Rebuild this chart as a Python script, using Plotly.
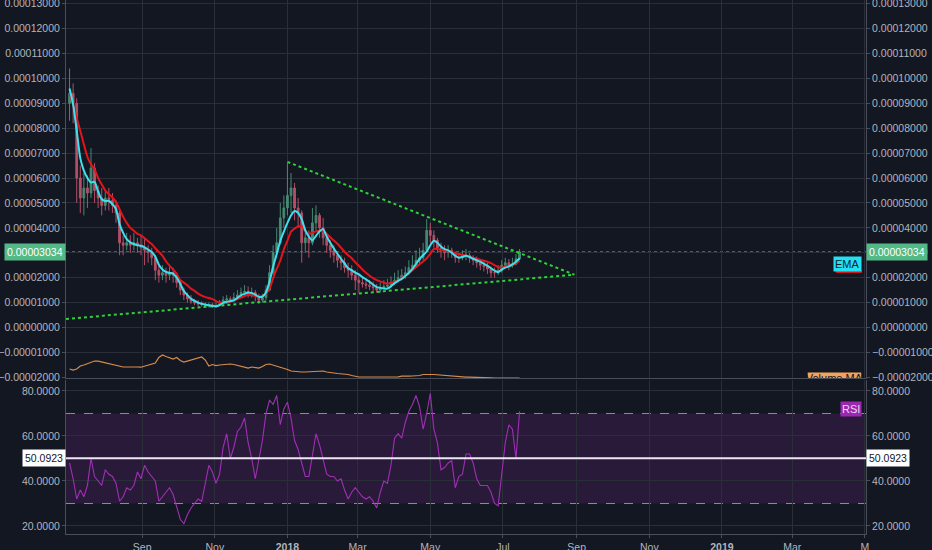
import plotly.graph_objects as go
import pandas as pd

# ---------------- data (prices in satoshi = 1e-8) ----------------
START_DATE = "2017-07-02"
STEP = "3D"
first_open_sats = 9000
close_sats = [9400, 9000, 6000, 5200, 5600, 5400, 6400, 5500, 5200, 4900,
              5200, 5100, 4900, 4600, 3400, 3300, 3400, 3300, 3400, 3300,
              3200, 3100, 3000, 2800, 2300, 2100, 2200, 2100, 2200, 2100,
              1800, 1500, 1300, 1150, 1050, 980, 950, 920, 880, 900,
              850, 880, 950, 1100, 1150, 1100, 1200, 1300, 1400, 1450,
              1350, 1400, 1250, 1100, 1200, 1500, 2200, 3000, 3400, 4400,
              4800, 5300, 5600, 4800, 4600, 3400, 3600, 3400, 4200, 4500,
              4000, 3600, 3300, 3100, 2900, 2700, 2600, 2400, 2300, 2100,
              1900, 1800, 1750, 1700, 1650, 1600, 1500, 1550, 1650, 1700,
              1800, 1900, 2000, 2100, 2200, 2400, 2500, 2700, 2800, 3100,
              3900, 3700, 3500, 3200, 3100, 3000, 3100, 3000, 2800, 2800,
              2900, 2900, 2800, 2700, 2600, 2500, 2450, 2350, 2200, 2200,
              2300, 2500, 2600, 2500, 2550, 2750, 3034]
high_sats = [10400, 9800, 9200, 6500, 6200, 6100, 7200, 6600, 5700, 5600,
             5500, 5600, 5400, 5100, 4700, 3700, 3800, 3700, 3800, 3600,
             3700, 3600, 3300, 3200, 2900, 2500, 2500, 2400, 2500, 2400,
             2200, 1900, 1600, 1400, 1300, 1150, 1100, 1050, 1000, 1000,
             980, 1000, 1100, 1250, 1300, 1250, 1400, 1500, 1600, 1700,
             1650, 1600, 1500, 1350, 1350, 1700, 2500, 3300, 4000, 5000,
             5300, 6600, 6200, 5800, 5200, 4700, 4000, 3900, 4800, 4900,
             4600, 4400, 3800, 3500, 3300, 3000, 2900, 2800, 2600, 2500,
             2300, 2100, 2000, 1950, 1900, 1850, 1750, 1800, 1900, 1950,
             2050, 2200, 2300, 2350, 2450, 2700, 2900, 3100, 3200, 3400,
             4350, 4200, 3900, 3600, 3400, 3300, 3300, 3200, 3050, 3000,
             3100, 3150, 3000, 2900, 2850, 2750, 2650, 2600, 2450, 2400,
             2500, 2700, 2800, 2750, 2800, 2950, 3150]
low_sats = [8300, 8200, 5000, 4600, 4500, 4800, 5200, 5000, 4800, 4500,
            4700, 4700, 4600, 4200, 2900, 2900, 3100, 3000, 3100, 3000,
            2900, 2500, 2600, 2500, 1900, 1800, 1900, 1800, 1900, 1800,
            1600, 1300, 1100, 1000, 950, 900, 850, 830, 800, 800,
            780, 800, 850, 900, 1000, 1000, 1050, 1100, 1200, 1250,
            1200, 1200, 1050, 950, 1000, 1100, 1450, 2100, 2800, 3300,
            4000, 4500, 4600, 4300, 4000, 2600, 3000, 2800, 3300, 3900,
            3600, 3300, 3000, 2800, 2600, 2400, 2300, 2200, 2000, 1900,
            1500, 1400, 1600, 1550, 1500, 1450, 1400, 1400, 1500, 1550,
            1650, 1700, 1800, 1900, 1950, 2100, 2300, 2400, 2500, 2700,
            3100, 3400, 3200, 3000, 2800, 2700, 2800, 2800, 2600, 2600,
            2700, 2700, 2600, 2500, 2400, 2300, 2250, 2150, 2000, 2000,
            2100, 2200, 2400, 2300, 2400, 2500, 2700]
ema_fast_sats = [9600, 8960, 7900, 6800, 6300, 6000, 5820, 5850, 5450, 5150,
                 5080, 5080, 4950, 4750, 4150, 3800, 3550, 3420, 3350, 3300,
                 3280, 3220, 3130, 3030, 2850, 2520, 2330, 2230, 2190, 2160,
                 2000, 1750, 1460, 1300, 1150, 1070, 1000, 950, 920, 890,
                 870, 845, 900, 990, 1030, 1060, 1090, 1190, 1290, 1350,
                 1400, 1380, 1320, 1230, 1240, 1400, 1850, 2450, 2950, 3480,
                 3850, 4200, 4500, 4680, 4600, 4350, 3900, 3650, 3500, 3680,
                 3860, 3950, 3650, 3400, 3170, 2960, 2760, 2570, 2380, 2300,
                 2200, 2130, 2020, 1930, 1830, 1720, 1620, 1590, 1570, 1560,
                 1650, 1780, 1870, 1950, 2070, 2200, 2350, 2550, 2750, 2900,
                 3050, 3300, 3480, 3400, 3250, 3150, 3100, 3000, 2880, 2800,
                 2830, 2880, 2830, 2760, 2700, 2640, 2560, 2480, 2380, 2280,
                 2220, 2320, 2400, 2450, 2530, 2640, 2780]
ema_slow_sats = [9400, 8960, 8400, 7900, 7350, 6850, 6550, 6350, 6000, 5750,
                 5500, 5350, 5220, 5050, 4750, 4450, 4200, 4000, 3880, 3760,
                 3700, 3580, 3460, 3350, 3180, 3030, 2880, 2660, 2480, 2330,
                 2150, 1900, 1800, 1690, 1560, 1470, 1360, 1280, 1220, 1180,
                 1140, 1060, 1000, 990, 980, 1040, 1080, 1140, 1200, 1260,
                 1300, 1290, 1260, 1220, 1270, 1360, 1560, 1980, 2350, 2680,
                 3150, 3480, 3850, 3970, 4060, 4080, 3880, 3760, 3800, 3860,
                 3880, 3880, 3750, 3620, 3490, 3360, 3200, 3040, 2900, 2780,
                 2620, 2480, 2330, 2200, 2080, 1980, 1900, 1850, 1800, 1760,
                 1800, 1840, 1880, 1980, 2080, 2180, 2300, 2420, 2540, 2650,
                 2780, 2960, 3150, 3150, 3110, 3080, 3050, 3020, 2980, 2950,
                 2920, 2880, 2840, 2800, 2760, 2720, 2680, 2640, 2580, 2500,
                 2420, 2400, 2440, 2480, 2500, 2580, 2680]
rsi_vals = [48, 41, 32, 36, 33, 38, 50, 42, 40, 38,
            45, 43, 42, 39, 31, 33, 37, 36, 38, 44,
            41, 47, 44, 42, 40, 31, 33, 35, 37, 34,
            28, 23, 21, 25, 28, 30, 32, 31, 39, 47,
            44, 39, 43, 55, 61, 50, 55, 62, 64, 68,
            57, 50, 41, 49, 58, 70, 76, 74, 78, 65,
            72, 75, 68, 58, 54, 48, 42, 42, 52, 61,
            56, 50, 43, 42, 42, 40, 41, 36, 32, 35,
            37, 35, 33, 32, 33, 31, 28, 35, 40, 39,
            47, 59, 61, 59, 66, 71, 74, 78, 73, 63,
            70, 79, 63, 57, 45, 46, 48, 49, 37, 42,
            43, 52, 52, 48, 41, 38, 38, 38, 35, 30,
            29, 42, 57, 65, 63, 50, 71]
vol_ma = [100, 90, 100, 130, 140, 155, 170, 180, 178, 170,
          162, 155, 145, 135, 125, 120, 120, 122, 118, 120,
          118, 128, 140, 148, 160, 215, 240, 225, 210, 200,
          215, 185, 170, 180, 195, 205, 215, 220, 190, 130,
          145, 135, 140, 145, 150, 150, 145, 135, 125, 115,
          110, 120, 115, 110, 125, 145, 150, 140, 125, 120,
          110, 95, 80, 75, 72, 70, 70, 72, 70, 75,
          72, 80, 70, 62, 60, 55, 52, 50, 45, 35,
          25, 20, 20, 20, 20, 18, 20, 18, 20, 22,
          20, 25, 22, 28, 25, 28, 30, 30, 35, 45,
          48, 45, 45, 42, 38, 35, 30, 25, 22, 20,
          20, 18, 18, 18, 15, 15, 15, 12, 12, 10,
          10, 10, 10, 10, 10, 10, 10]

last_price = 0.00003034
last_price_text = "0.00003034"
rsi_line_value = 50.0923
rsi_line_text = "50.0923"

trend_upper_dates = ["2018-01-01", "2018-08-30"]
trend_upper_vals = [0.0000665, 0.0000212]
trend_lower_dates = ["2017-06-29", "2018-08-30"]
trend_lower_vals = [0.0000034, 0.0000212]

tick_dates = ["2017-09-01", "2017-11-01", "2018-01-01", "2018-03-01", "2018-05-01",
              "2018-07-01", "2018-09-01", "2018-11-01", "2019-01-01", "2019-03-01",
              "2019-05-01"]
tick_text = ["Sep", "Nov", "<b>2018</b>", "Mar", "May", "Jul", "Sep", "Nov",
             "<b>2019</b>", "Mar", "M"]
rsi_ticks = [20, 40, 60, 80]

# ---------------- derived ----------------
SAT = 1e-8
dates = pd.date_range(START_DATE, periods=len(close_sats), freq=STEP)
close = [v * SAT for v in close_sats]
high = [v * SAT for v in high_sats]
low = [v * SAT for v in low_sats]
opn = [first_open_sats * SAT] + close[:-1]
ema_fast = [v * SAT for v in ema_fast_sats]
ema_slow = [v * SAT for v in ema_slow_sats]

# ---------------- style ----------------
BG = "#131722"
GRID = "#2a2e39"
BORDER = "#4a4e5a"
TXT = "#b2b5be"
FONT = "Liberation Sans, Arial, sans-serif"
FS = 10.5
X_RANGE = ["2017-06-29", "2019-05-02"]
MAIN_RANGE = [-0.0000203, 0.0001315]
RSI_RANGE = [16.44, 84.89]
MAIN_DOM = [0.2921, 1.0]
RSI_DOM = [0.0, 0.2884]

fig = go.Figure()

# volume MA (own hidden axis at the bottom of main pane)
fig.add_trace(go.Scatter(x=dates, y=vol_ma, xaxis="x", yaxis="y5", mode="lines",
                         line=dict(color="#d98c4a", width=1.2), hoverinfo="skip",
                         showlegend=False))

# trend lines
fig.add_trace(go.Scatter(x=trend_upper_dates, y=trend_upper_vals, xaxis="x", yaxis="y",
                         mode="lines", line=dict(color="#2fd13a", width=2, dash="dot"),
                         showlegend=False, hoverinfo="skip"))
fig.add_trace(go.Scatter(x=trend_lower_dates, y=trend_lower_vals, xaxis="x", yaxis="y",
                         mode="lines", line=dict(color="#2fd13a", width=2, dash="dot"),
                         showlegend=False, hoverinfo="skip"))

# candles
fig.add_trace(go.Candlestick(
    x=dates, open=opn, high=high, low=low, close=close, xaxis="x", yaxis="y",
    increasing=dict(line=dict(color="#4f9d80", width=1), fillcolor="#4f9d80"),
    decreasing=dict(line=dict(color="#cf5a72", width=1), fillcolor="#cf5a72"),
    whiskerwidth=0, opacity=0.85, showlegend=False, hoverinfo="skip"))

# EMAs
fig.add_trace(go.Scatter(x=dates, y=ema_slow, xaxis="x", yaxis="y", mode="lines",
                         line=dict(color="#e3151c", width=2, shape="spline", smoothing=0.6),
                         showlegend=False, hoverinfo="skip"))
fig.add_trace(go.Scatter(x=dates, y=ema_fast, xaxis="x", yaxis="y", mode="lines",
                         line=dict(color="#3fe0ee", width=2, shape="spline", smoothing=0.6),
                         showlegend=False, hoverinfo="skip"))

# Volume MA label text (clipped by pane)
fig.add_trace(go.Scatter(x=["2019-04-05"], y=[-0.0000206], xaxis="x", yaxis="y",
                         mode="text", text=["Volume MA"], cliponaxis=True,
                         textfont=dict(color="#131722", size=11, family=FONT),
                         showlegend=False, hoverinfo="skip"))

# RSI
fig.add_trace(go.Scatter(x=dates, y=rsi_vals, xaxis="x2", yaxis="y3", mode="lines",
                         line=dict(color="#a02fb5", width=1.1), showlegend=False,
                         hoverinfo="skip"))

# dummies so right-side axes get drawn
fig.add_trace(go.Scatter(x=[dates[0]], y=[None], xaxis="x", yaxis="y2", mode="lines",
                         showlegend=False, hoverinfo="skip"))
fig.add_trace(go.Scatter(x=[dates[0]], y=[None], xaxis="x2", yaxis="y4", mode="lines",
                         showlegend=False, hoverinfo="skip"))

axis_font = dict(family=FONT, size=FS, color=TXT)
common_y = dict(showline=True, linecolor=BORDER, linewidth=1, ticks="outside",
                ticklen=3, tickcolor=BORDER, tickfont=axis_font, zeroline=False,
                automargin=False, ticklabeloverflow="allow")

fig.update_layout(
    width=932, height=550,
    margin=dict(l=66, r=66, t=0, b=16, pad=0, autoexpand=False),
    paper_bgcolor=BG, plot_bgcolor=BG,
    font=dict(family=FONT, size=FS, color=TXT),
    showlegend=False,
    xaxis=dict(domain=[0, 1], anchor="y", range=X_RANGE, type="date",
               tickvals=tick_dates, showticklabels=False, showgrid=True,
               gridcolor=GRID, showline=True, linecolor=BORDER, zeroline=False,
               rangeslider=dict(visible=False), automargin=False),
    xaxis2=dict(domain=[0, 1], anchor="y3", range=X_RANGE, type="date", matches="x",
                tickvals=tick_dates, ticktext=tick_text, showgrid=True, gridcolor=GRID,
                showline=True, linecolor=BORDER, ticks="outside", ticklen=3,
                tickcolor=BORDER, tickfont=axis_font, zeroline=False, automargin=False,
                ticklabeloverflow="allow"),
    yaxis=dict(domain=MAIN_DOM, anchor="x", range=MAIN_RANGE, side="left",
               tick0=0, dtick=0.00001, tickformat=".8f", showgrid=True,
               gridcolor=GRID, **common_y),
    yaxis2=dict(overlaying="y", anchor="x", side="right", range=MAIN_RANGE,
                tick0=0, dtick=0.00001, tickformat=".8f", showgrid=False, **common_y),
    yaxis3=dict(domain=RSI_DOM, anchor="x2", range=RSI_RANGE, side="left",
                tickvals=rsi_ticks, tickformat=".4f", showgrid=True, gridcolor=GRID,
                **common_y),
    yaxis4=dict(overlaying="y3", anchor="x2", side="right", range=RSI_RANGE,
                tickvals=rsi_ticks, tickformat=".4f", showgrid=False, **common_y),
    yaxis5=dict(overlaying="y", anchor="x", range=[10, 3790], visible=False),
)

shapes = [
    # RSI band
    dict(type="rect", xref="paper", yref="y3", x0=0, x1=1, y0=30, y1=70,
         fillcolor="rgba(155,39,176,0.17)", line=dict(width=0), layer="below"),
    dict(type="line", xref="paper", yref="y3", x0=0, x1=1, y0=70, y1=70,
         line=dict(color="#8e8a9e", width=1, dash="dash"), layer="below"),
    dict(type="line", xref="paper", yref="y3", x0=0, x1=1, y0=30, y1=30,
         line=dict(color="#8e8a9e", width=1, dash="dash"), layer="below"),
    dict(type="line", xref="paper", yref="y3", x0=0, x1=1, y0=rsi_line_value,
         y1=rsi_line_value, line=dict(color="#eee6f4", width=2), layer="above"),
    # last price line
    dict(type="line", xref="paper", yref="y", x0=0, x1=1, y0=last_price, y1=last_price,
         line=dict(color="rgba(110,175,150,0.85)", width=1, dash="dot"), layer="below"),
    # EMA legend underline
    dict(type="rect", xref="paper", yref="y", x0=0.9625, x1=0.995, y0=0.0000219,
         y1=0.0000231, fillcolor="#e3151c", line=dict(width=0), layer="above"),
    # Volume MA legend box (clipped by pane)
    dict(type="rect", xref="x", yref="y", x0="2019-03-14", x1="2019-04-28",
         y0=-0.0000240, y1=-0.0000181, fillcolor="#f3a25a", line=dict(width=0),
         layer="below"),
]
fig.update_layout(shapes=shapes)

ann_font = dict(family=FONT, size=FS)
annotations = [
    dict(xref="paper", yref="y", x=0, y=last_price, xanchor="right", yanchor="middle",
         text=last_price_text, showarrow=False, bgcolor="#53b987", borderpad=2,
         font=dict(color="#ffffff", **ann_font)),
    dict(xref="paper", yref="y", x=1, y=last_price, xanchor="left", yanchor="middle",
         text=last_price_text, showarrow=False, bgcolor="#53b987", borderpad=2,
         font=dict(color="#ffffff", **ann_font)),
    dict(xref="paper", yref="y3", x=0, y=rsi_line_value, xanchor="right", yanchor="middle",
         text=rsi_line_text, showarrow=False, bgcolor="#ffffff", borderpad=2,
         font=dict(color="#131722", **ann_font)),
    dict(xref="paper", yref="y3", x=1, y=rsi_line_value, xanchor="left", yanchor="middle",
         text=rsi_line_text, showarrow=False, bgcolor="#ffffff", borderpad=2,
         font=dict(color="#131722", **ann_font)),
    dict(xref="paper", yref="y", x=0.995, y=0.0000256, xanchor="right", yanchor="middle",
         text="EMA", showarrow=False, bgcolor="#22e1f2", borderpad=1,
         font=dict(color="#10202a", family=FONT, size=11)),
    dict(xref="paper", yref="y3", x=0.995, y=71.8, xanchor="right", yanchor="middle",
         text="RSI", showarrow=False, bgcolor="#9c27b0", borderpad=1,
         font=dict(color="#f0d6f6", family=FONT, size=11)),
]
fig.update_layout(annotations=annotations)

fig.write_html("out.html", config={"displayModeBar": False},
               post_script="document.body.style.margin='0px';")
